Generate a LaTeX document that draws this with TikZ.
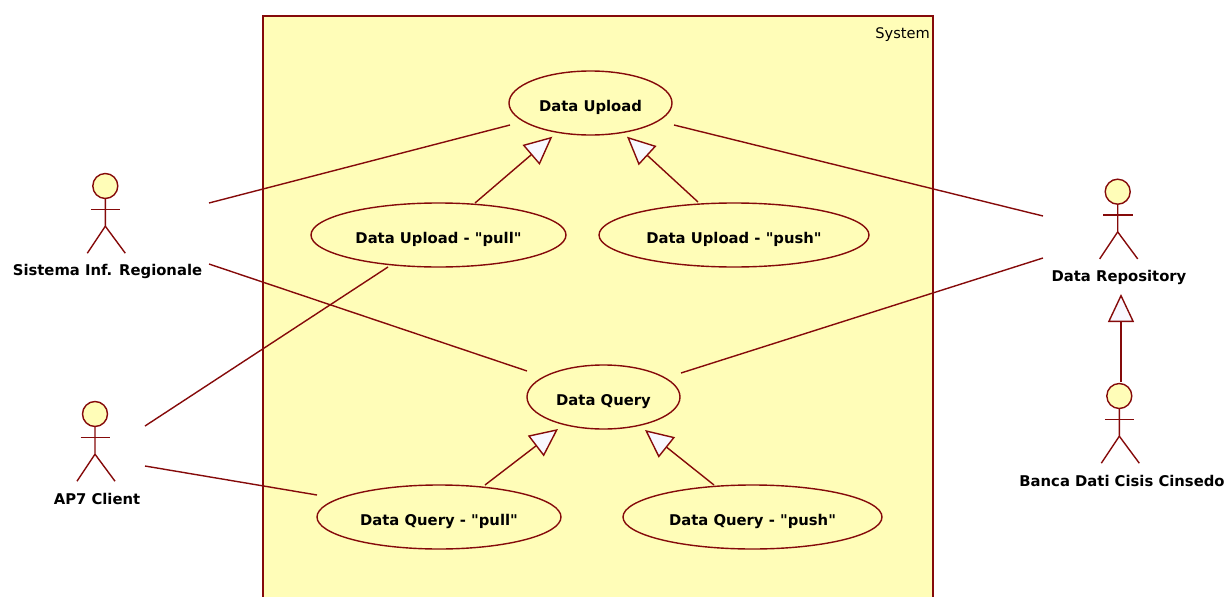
\documentclass[tikz,border=0pt]{standalone}
\usepackage{fontspec}
\newfontfamily\umlfont{DejaVu Sans}
\usetikzlibrary{arrows.meta,shapes.geometric}
\definecolor{umlline}{HTML}{850A0A}
\definecolor{umlfill}{HTML}{FFFDB8}
\definecolor{tipfill}{HTML}{F8F8FF}
\tikzset{
  conn/.style={draw=umlline,line width=1.4pt},
  gen/.style={conn,-{Triangle[open,length=28pt,width=26pt,fill=tipfill]}},
  usecase/.style={ellipse,draw=umlline,fill=umlfill,line width=1.4pt,inner sep=0pt,text height=16pt,text depth=0pt,font=\umlfont\fontsize{14.8}{17}\selectfont\bfseries},
  head/.style={circle,draw=umlline,fill=umlfill,line width=1.4pt,minimum size=25pt,inner sep=0pt},
  actlabel/.style={font=\umlfont\fontsize{14.8}{17}\selectfont\bfseries,inner sep=0pt},
}
\newcommand{\myactor}[6]{%
  \node[head] (#1) at (#2,#3) {};
  \draw[conn] (#1.south) -- ++(0,27) coordinate (#1w) -- ++(-18,27);
  \draw[conn] (#1w) -- ++(20,27);
  \draw[conn] ([xshift=-14.5pt,yshift=-10pt]#1.south) -- ++(29.5,0);
  \node[actlabel] (#1l) at (#4,#5) {#6};
}
\begin{document}
\begin{tikzpicture}[x=1pt,y=-1pt]
\useasboundingbox (0,0) rectangle (1224,597);
\fill[umlfill] (263,16) rectangle (933,597);
\draw[conn] (263,597) -- (263,16) -- (933,16) -- (933,597);
\node[font=\umlfont\fontsize{14.6}{17}\selectfont,anchor=base east,inner sep=0pt] (sysl) at (930,38.5) {System};
\node[usecase,minimum width=163pt,minimum height=64pt] (du) at (590.5,103) {Data Upload};
\node[usecase,minimum width=255pt,minimum height=64pt] (dupull) at (438.5,235) {Data Upload - "pull"};
\node[usecase,minimum width=270pt,minimum height=64pt] (dupush) at (734,235) {Data Upload - "push"};
\node[usecase,minimum width=153pt,minimum height=64pt] (dq) at (603.5,397) {Data Query};
\node[usecase,minimum width=244pt,minimum height=64pt] (dqpull) at (439,517) {Data Query - "pull"};
\node[usecase,minimum width=259pt,minimum height=64pt] (dqpush) at (752.5,517) {Data Query - "push"};
\myactor{sir}{105.3}{186}{107.5}{271}{Sistema Inf. Regionale}
\myactor{ap}{95}{414}{97}{499}{AP7 Client}
\myactor{rep}{1117.7}{191.7}{1119}{277.5}{Data Repository}
\myactor{banca}{1119.3}{396}{1122}{481}{Banca Dati Cisis Cinsedo}
\coordinate (a1) at (209,203); \coordinate (a2) at (510,125);
\coordinate (b1) at (209,264); \coordinate (b2) at (527,371);
\coordinate (c1) at (145,426); \coordinate (c2) at (388,267);
\coordinate (d1) at (145,466); \coordinate (d2) at (317,495);
\coordinate (e1) at (1043,216); \coordinate (e2) at (674,125);
\coordinate (f1) at (1043,258); \coordinate (f2) at (681,373);
\draw[conn] (a1) -- (a2);
\draw[conn] (b1) -- (b2);
\draw[conn] (c1) -- (c2);
\draw[conn] (d1) -- (d2);
\draw[conn] (e1) -- (e2);
\draw[conn] (f1) -- (f2);
\coordinate (g1) at (475,203); \coordinate (g2) at (552.3,136.7);
\coordinate (h1) at (698,202); \coordinate (h2) at (627,136.7);
\coordinate (i1) at (485,485); \coordinate (i2) at (558,429);
\coordinate (j1) at (714,485); \coordinate (j2) at (645,430);
\coordinate (k1) at (1121,382); \coordinate (k2) at (1121,294);
\draw[gen] (g1) -- (g2);
\draw[gen] (h1) -- (h2);
\draw[gen] (i1) -- (i2);
\draw[gen] (j1) -- (j2);
\draw[gen] (k1) -- (k2);
\end{tikzpicture}
\end{document}
